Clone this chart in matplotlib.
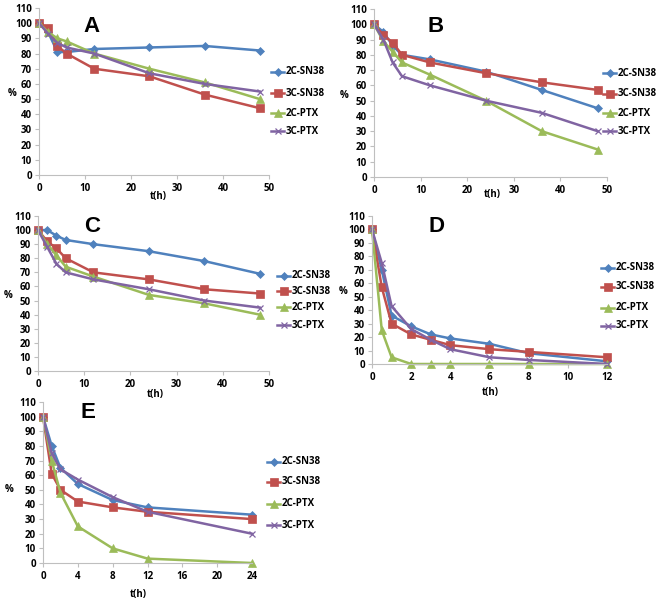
import matplotlib
matplotlib.use("Agg")
import matplotlib.pyplot as plt
from matplotlib.lines import Line2D

plt.rcParams['font.family'] = ['Open Sans', 'DejaVu Sans']
plt.rcParams['font.weight'] = 'bold'

series_names = ["2C-SN38", "3C-SN38", "2C-PTX", "3C-PTX"]
colors = ["#4F81BD", "#C0504D", "#9BBB59", "#8064A2"]
markers = ["D", "s", "^", "x"]
msizes = [4, 6, 5.5, 5]

# Panel A
xA = [0, 2, 4, 6, 12, 24, 36, 48]
A_2C_SN38 = [100, 94, 81, 81, 83, 84, 85, 82]
A_3C_SN38 = [100, 97, 85, 80, 70, 65, 53, 44]
A_2C_PTX = [100, 94, 90, 88, 80, 70, 61, 50]
A_3C_PTX = [100, 93, 87, 84, 80, 67, 60, 55]

# Panel B
xB = [0, 2, 4, 6, 12, 24, 36, 48]
B_2C_SN38 = [100, 95, 86, 80, 77, 69, 57, 45]
B_3C_SN38 = [100, 93, 88, 80, 75, 68, 62, 57]
B_2C_PTX = [100, 89, 82, 75, 67, 50, 30, 18]
B_3C_PTX = [100, 90, 75, 66, 60, 50, 42, 30]

# Panel C
xC = [0, 2, 4, 6, 12, 24, 36, 48]
C_2C_SN38 = [100, 100, 96, 93, 90, 85, 78, 69]
C_3C_SN38 = [100, 92, 87, 80, 70, 65, 58, 55]
C_2C_PTX = [100, 90, 82, 74, 67, 54, 48, 40]
C_3C_PTX = [100, 88, 76, 70, 65, 58, 50, 45]

# Panel D
xD = [0, 0.5, 1, 2, 3, 4, 6, 8, 12]
D_2C_SN38 = [100, 70, 36, 28, 22, 19, 15, 8, 2]
D_3C_SN38 = [100, 57, 30, 22, 18, 14, 11, 9, 5]
D_2C_PTX = [100, 25, 5, 0, 0, 0, 0, 0, 0]
D_3C_PTX = [100, 75, 43, 26, 18, 11, 5, 3, 0]

# Panel E
xE = [0, 1, 2, 4, 8, 12, 24]
E_2C_SN38 = [100, 80, 65, 54, 43, 38, 33]
E_3C_SN38 = [100, 61, 50, 42, 38, 35, 30]
E_2C_PTX = [100, 70, 48, 25, 10, 3, 0]
E_3C_PTX = [100, 75, 64, 57, 45, 35, 20]

yticks = list(range(0, 111, 10))
xticks_50 = [0, 10, 20, 30, 40, 50]
xticks_D = [0, 2, 4, 6, 8, 10, 12]
xticks_E = [0, 4, 8, 12, 16, 20, 24]

W, H = 666, 603
fig = plt.figure(figsize=(W / 100, H / 100), dpi=100)


def px_axes(x0, x1, y0, y1):
    return fig.add_axes([x0 / W, (H - y0) / H, (x1 - x0) / W, (y0 - y1) / H])


panels = [
    dict(letter="A", box=(39, 269, 175, 8), x=xA,
         ys=[A_2C_SN38, A_3C_SN38, A_2C_PTX, A_3C_PTX], xlim=(0, 50), xt=xticks_50,
         letter_xy=(92, 26), pct=(8, 94), th=(158, 196), leg=(271, [72, 93, 113, 131])),
    dict(letter="B", box=(374, 607, 177, 9), x=xB,
         ys=[B_2C_SN38, B_3C_SN38, B_2C_PTX, B_3C_PTX], xlim=(0, 50), xt=xticks_50,
         letter_xy=(436, 26), pct=(340, 95), th=(492, 194), leg=(603, [73, 94, 113, 131])),
    dict(letter="C", box=(38, 269, 371, 216), x=xC,
         ys=[C_2C_SN38, C_3C_SN38, C_2C_PTX, C_3C_PTX], xlim=(0, 50), xt=xticks_50,
         letter_xy=(92, 227), pct=(4, 295), th=(155, 394), leg=(277, [276, 291, 307, 325])),
    dict(letter="D", box=(372, 607, 364, 216), x=xD,
         ys=[D_2C_SN38, D_3C_SN38, D_2C_PTX, D_3C_PTX], xlim=(0, 12), xt=xticks_D,
         letter_xy=(436, 227), pct=(339, 291), th=(490, 392), leg=(601, [268, 287, 308, 326])),
    dict(letter="E", box=(43, 252, 563, 402), x=xE,
         ys=[E_2C_SN38, E_3C_SN38, E_2C_PTX, E_3C_PTX], xlim=(0, 24), xt=xticks_E,
         letter_xy=(88, 413), pct=(5, 490), th=(138, 594), leg=(267, [462, 482, 504, 525])),
]

for p in panels:
    ax = px_axes(*p["box"])
    for y, name, c, m, ms in zip(p["ys"], series_names, colors, markers, msizes):
        ax.plot(p["x"], y, color=c, marker=m, markersize=ms, lw=1.8,
                markeredgewidth=0.9 if m == "x" else 0.5, label=name, clip_on=False)
    ax.set_xlim(*p["xlim"])
    ax.set_ylim(0, 110)
    ax.set_yticks(yticks)
    ax.set_xticks(p["xt"])
    for s in ["top", "right"]:
        ax.spines[s].set_visible(False)
    for s in ["left", "bottom"]:
        ax.spines[s].set_color("#BFBFBF")
        ax.spines[s].set_linewidth(0.8)
    ax.tick_params(axis="both", colors="#BFBFBF", labelcolor="black", labelsize=7,
                   length=3, width=0.8, pad=2)
    ax.tick_params(axis="x", pad=3)
    for lab in ax.get_xticklabels() + ax.get_yticklabels():
        lab.set_fontweight("bold")
    lx, ly = p["letter_xy"]
    fig.text(lx / W, 1 - ly / H, p["letter"], fontsize=16, fontweight="bold",
             ha="center", va="center", family=["Liberation Sans", "DejaVu Sans"])
    px_, py_ = p["pct"]
    fig.text(px_ / W, 1 - py_ / H, "%", fontsize=7, fontweight="bold", ha="left", va="center")
    tx, ty = p["th"]
    fig.text(tx / W, 1 - ty / H, "t(h)", fontsize=7, fontweight="bold", ha="center", va="center")
    lgx, lgys = p["leg"]
    for lgy, name, c, m, ms in zip(lgys, series_names, colors, markers, msizes):
        fig.add_artist(Line2D([lgx / W, (lgx + 13) / W], [1 - lgy / H, 1 - lgy / H],
                              transform=fig.transFigure, color=c, lw=1.8))
        fig.add_artist(Line2D([(lgx + 6.5) / W], [1 - lgy / H], transform=fig.transFigure,
                              color=c, marker=m, markersize=ms,
                              markeredgewidth=0.9 if m == "x" else 0.5))
        fig.text((lgx + 15) / W, 1 - lgy / H, name, fontsize=7, fontweight="bold",
                 ha="left", va="center")

fig.savefig("out.png", dpi=100)
